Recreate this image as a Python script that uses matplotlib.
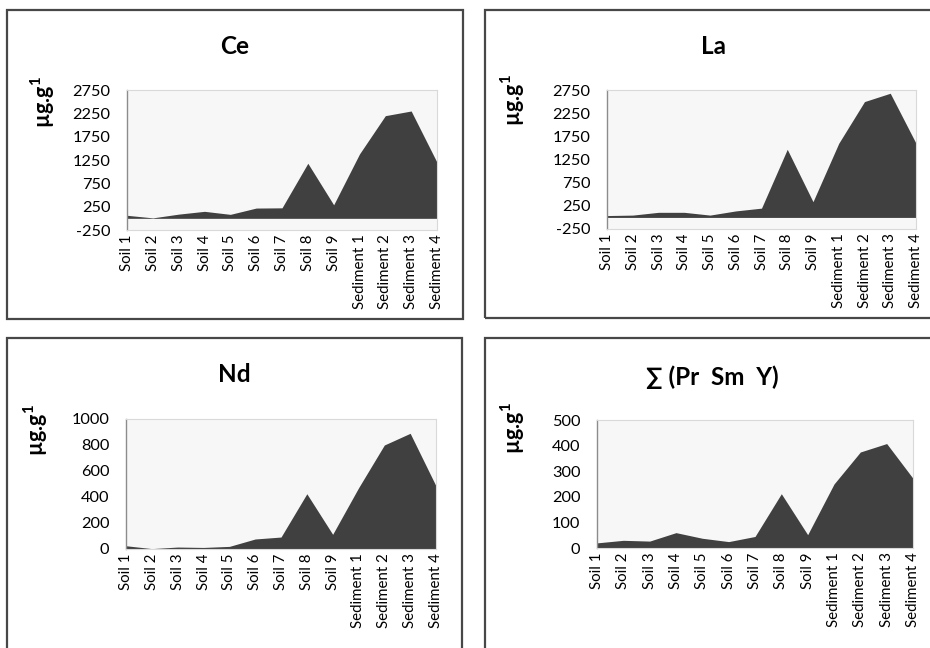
import matplotlib
matplotlib.use("Agg")
import matplotlib.pyplot as plt
from matplotlib.patches import Rectangle

plt.rcParams['font.family'] = ['Lato', 'DejaVu Sans']
plt.rcParams['mathtext.default'] = 'regular'

# ==========================================
# DATA (µg/g)
# ==========================================
samples = ["Soil 1", "Soil 2", "Soil 3", "Soil 4", "Soil 5", "Soil 6", "Soil 7",
           "Soil 8", "Soil 9", "Sediment 1", "Sediment 2", "Sediment 3", "Sediment 4"]

ce = [65, 10, 90, 150, 85, 220, 225, 1180, 290, 1380, 2200, 2300, 1200]
la = [40, 50, 110, 110, 50, 140, 200, 1470, 340, 1600, 2500, 2680, 1600]
nd = [25, 3, 15, 12, 20, 77, 92, 425, 113, 470, 800, 890, 485]
pr_sm_y = [20, 30, 27, 60, 38, 25, 45, 212, 52, 250, 375, 408, 272]

titles = ["Ce", "La", "Nd", "\u2211 (Pr  Sm  Y)"]
ce_la_ticks = [-250, 250, 750, 1250, 1750, 2250, 2750]
nd_ticks = [0, 200, 400, 600, 800, 1000]
sum_ticks = [0, 100, 200, 300, 400, 500]

W, H = 930, 648
FILL = '#404040'
PLOT_BG = '#f7f7f7'


def px(x, y):
    # pixel coordinates (from top-left) -> figure fraction
    return x / W, 1 - y / H


def make_axes(fig, left, top, right, bottom):
    x0, y0 = px(left, bottom)
    return fig.add_axes([x0, y0, (right - left) / W, (bottom - top) / H])


def draw_panel(ax, values, ticks):
    xs = range(len(samples))
    ax.fill_between(xs, 0, values, color=FILL, linewidth=0)
    ax.set_facecolor(PLOT_BG)
    ax.set_xlim(0, len(samples) - 1)
    ax.set_ylim(ticks[0], ticks[-1])
    ax.set_yticks(ticks)
    ax.set_yticklabels([str(t) for t in ticks], fontsize=11.8)
    ax.set_xticks(list(xs))
    ax.set_xticklabels(samples, rotation=90, fontsize=10.8)
    ax.tick_params(axis='both', length=0)
    ax.tick_params(axis='y', pad=12)
    ax.tick_params(axis='x', pad=3)
    for side in ['top', 'right', 'bottom']:
        ax.spines[side].set_color('#d9d9d9')
        ax.spines[side].set_linewidth(0.8)
    ax.spines['left'].set_color('#8c8c8c')
    ax.spines['left'].set_linewidth(1.0)


fig = plt.figure(figsize=(W / 100, H / 100), dpi=100)

# panel frames (right and bottom ones run off the picture)
frames = [(7, 10, 463, 319), (485, 10, 940, 318), (7, 338, 462, 660), (485, 338, 940, 660)]
for l, t, r, b in frames:
    x0, y0 = px(l, b)
    fig.add_artist(Rectangle((x0, y0), (r - l) / W, (b - t) / H, transform=fig.transFigure,
                             fill=False, edgecolor='#474747', linewidth=1.6))

ax_ce = make_axes(fig, 127, 90, 437, 230)
ax_la = make_axes(fig, 607, 90, 916, 229)
ax_nd = make_axes(fig, 126, 419, 436, 549)
ax_sum = make_axes(fig, 597, 420, 913, 548)

draw_panel(ax_ce, ce, ce_la_ticks)
draw_panel(ax_la, la, ce_la_ticks)
draw_panel(ax_nd, nd, nd_ticks)
draw_panel(ax_sum, pr_sm_y, sum_ticks)

# titles
title_pos = [(235, 46), (713, 46), (234, 375), (712, 377)]
for (x, y), t in zip(title_pos, titles):
    fig.text(*px(x, y), t, ha='center', va='center', fontsize=17.5, fontweight='bold')

# unit labels
unit_pos = [(43, 102), (513, 100), (36, 430), (513, 428)]
for x, y in unit_pos:
    fig.text(*px(x, y), 'µg.g$^{1}$', rotation=90, ha='center', va='center',
             fontsize=15.5, fontweight='bold')

plt.savefig('out.png', dpi=100)
